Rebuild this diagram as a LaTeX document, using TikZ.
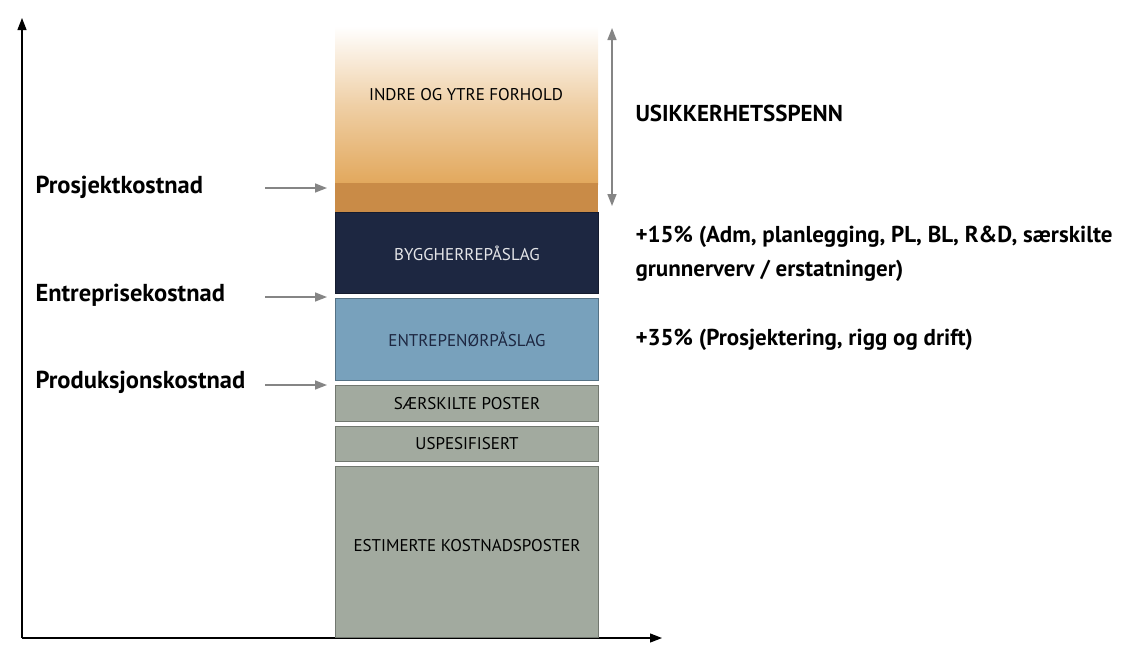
\documentclass[tikz,border=0pt]{standalone}
\usepackage{fontspec}
\setmainfont{PT Sans}
\usetikzlibrary{arrows.meta}

\definecolor{navy}{HTML}{1D2741}
\definecolor{lyseblaa}{HTML}{78A1BC}
\definecolor{graa}{HTML}{A2AA9F}
\definecolor{oker}{HTML}{C98B47}
\definecolor{okerlys}{HTML}{E2A85C}
\definecolor{pil}{HTML}{858585}

\begin{document}
\begin{tikzpicture}[x=1pt,y=-1pt,>={Triangle[length=12pt,width=9pt]},
    lag/.style={draw=#1!70!black, fill=#1, line width=1pt, inner sep=0pt,
        minimum width=263pt, anchor=north west, font=\fontsize{17}{20}\selectfont},
    etikett/.style={anchor=west, font=\bfseries\fontsize{24.5}{28}\selectfont},
    merknad/.style={anchor=west, align=left, font=\bfseries\fontsize{23}{34}\selectfont},
    markor/.style={->, pil, line width=1.5pt, shorten >=8pt}]
    \useasboundingbox (0,0) rectangle (1124,646);

    % akser
    \coordinate (origo) at (22,638);
    \draw[very thick,->] (origo) -- (22,18);
    \draw[very thick,->] (origo) -- (662,638);

    % stabel
    \shade[top color=white, bottom color=okerlys, middle color=okerlys!55!white]
        (335,26) rectangle (598,184);
    \fill[oker] (335,183) rectangle (598,212);
    \node[font=\fontsize{17}{20}\selectfont] (indre) at (466,95) {INDRE OG YTRE FORHOLD};
    \node[lag=navy, minimum height=81pt, text=white!88!navy] (bygg) at (335,212) {BYGGHERREPÅSLAG};
    \node[lag=lyseblaa, minimum height=82pt, text=navy] (entr) at (335,298) {ENTREPENØRPÅSLAG};
    \node[lag=graa, minimum height=36pt] (saer) at (335,385) {SÆRSKILTE POSTER};
    \node[lag=graa, minimum height=35pt] (uspes) at (335,426) {USPESIFISERT};
    \node[lag=graa, minimum height=171pt, text depth=14pt] (est) at (335,466) {ESTIMERTE KOSTNADSPOSTER};

    % venstre etiketter
    \node[etikett] (prosj) at (32,187) {Prosjektkostnad};
    \node[etikett] (entrk) at (32,295) {Entreprisekostnad};
    \node[etikett] (prodk) at (32,382) {Produksjonskostnad};
    \coordinate (p1) at (265,188);
    \coordinate (p2) at (265,297);
    \coordinate (p3) at (265,385);
    \draw[markor] (p1) -- (p1 -| bygg.west);
    \draw[markor] (p2) -- (p2 -| entr.west);
    \draw[markor] (p3) -- (p3 -| saer.west);

    % usikkerhet
    \coordinate (s1) at (612,28);
    \coordinate (s2) at (612,206);
    \draw[pil, line width=1.5pt, <->] (s1) -- (s2);
    \node[merknad] (usikker) at (632,113) {USIKKERHETSSPENN};
    \node[merknad] (byggtxt) at (632,254) {+15\% (Adm, planlegging, PL, BL, R\&D, særskilte\\grunnerverv / erstatninger)};
    \node[merknad] (entrtxt) at (632,340) {+35\% (Prosjektering, rigg og drift)};
\end{tikzpicture}
\end{document}
